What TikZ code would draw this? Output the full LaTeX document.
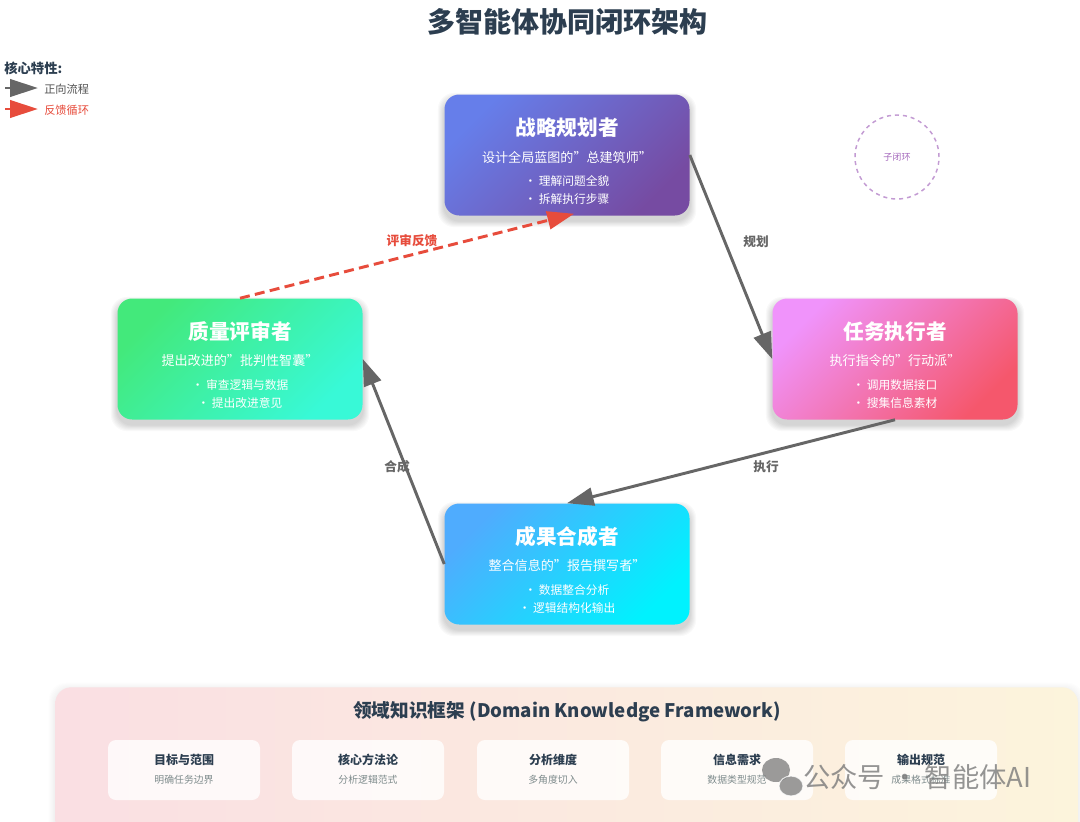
\documentclass[tikz,border=0pt]{standalone}
\usepackage{fontspec}
\setmainfont{Noto Sans CJK SC}
\usetikzlibrary{arrows.meta,calc,backgrounds}
\definecolor{titlec}{HTML}{2C3E50}
\definecolor{edgec}{HTML}{666666}
\definecolor{fbred}{HTML}{E74C3C}
\definecolor{subgray}{HTML}{7F8C8D}
\definecolor{loopc}{HTML}{C39BD3}
\definecolor{looptxt}{HTML}{A569BD}
\definecolor{sA}{HTML}{667EEA}\definecolor{sB}{HTML}{764BA2}
\definecolor{qA}{HTML}{43E97B}\definecolor{qB}{HTML}{38F9D7}
\definecolor{eA}{HTML}{F093FB}\definecolor{eB}{HTML}{F5576C}
\definecolor{cA}{HTML}{4FACFE}\definecolor{cB}{HTML}{00F2FE}
\definecolor{panA}{HTML}{FADFE3}\definecolor{panB}{HTML}{FCF4DC}
\definecolor{wm}{HTML}{7A7A7A}
\tikzset{
  agent/.style={rounded corners=11pt, minimum width=183.75pt, minimum height=90.75pt, inner sep=0pt},
  atitle/.style={text=white, font=\bfseries\fontsize{15.5}{18}\selectfont, inner sep=0pt},
  asub/.style={text=white, font=\fontsize{9.8}{12}\selectfont, inner sep=0pt},
  abul/.style={text=white, font=\fontsize{8.8}{11}\selectfont, inner sep=0pt},
  flow/.style={draw=edgec, line width=2.2pt, -{Triangle[length=20pt,width=13.5pt]}},
  fback/.style={draw=fbred, line width=2.2pt, dash pattern=on 7.5pt off 4pt, -{Triangle[length=20pt,width=13.5pt]}},
  elabel/.style={text=edgec, font=\bfseries\fontsize{9.5}{11}\selectfont, inner sep=0pt},
  card/.style={rounded corners=6pt, fill=white, fill opacity=0.8, minimum width=114pt, minimum height=45pt, inner sep=0pt},
  ctitle/.style={text=titlec, font=\bfseries\fontsize{9}{11}\selectfont, inner sep=0pt},
  csub/.style={text=subgray, font=\fontsize{7.4}{9}\selectfont, inner sep=0pt},
}
% soft shadow: name, corner radius, vertical shift (px, downwards), opacity per layer
\newcommand\softshadow[4]{%
  \begin{scope}[on background layer]
  \foreach \i in {1,...,7} {
    \fill[black, opacity=#4, rounded corners=#2] ($(#1.south west)+(-\i*0.9,\i*0.9+#3)$) rectangle ($(#1.north east)+(\i*0.9,-\i*0.9+#3)$);
  }
  \end{scope}}
\newcommand\agentbox[9]{%
  \node[agent, top color=#4, bottom color=#5, shading angle=45] (#1) at (#2,#3) {};
  \softshadow{#1}{12pt}{5}{0.022}
  \node[atitle] (#1-t) at ($(#1.center)+(0,-27)$) {#6};
  \node[asub] (#1-s) at ($(#1.center)+(0,2)$) {#7};
  \node[abul] (#1-b1) at ($(#1.center)+(0,26)$) {• #8};
  \node[abul] (#1-b2) at ($(#1.center)+(0,44)$) {• #9};
}
\newcommand\kcard[4]{%
  \node[card] (#1) at (#2,770) {};
  \softshadow{#1}{7pt}{3}{0.012}
  \node[ctitle] (#1-t) at ($(#1.center)+(0,-10)$) {#3};
  \node[csub] (#1-s) at ($(#1.center)+(0,10)$) {#4};
}
\begin{document}
\begin{tikzpicture}[x=0.75pt,y=-0.75pt]
\useasboundingbox (0,0) rectangle (1080,821);
\clip (0,0) rectangle (1080,821);
\begin{scope}[on background layer]
\fill[white] (0,0) rectangle (1080,821);
\end{scope}

% title
\node[text=titlec, font=\bfseries\fontsize{21}{24}\selectfont, inner sep=0pt] (title) at (567,22) {多智能体协同闭环架构};

% legend
\node[anchor=west, text=titlec, font=\bfseries\fontsize{10}{12}\selectfont, inner sep=0pt] (lgt) at (4,68) {核心特性:};
\coordinate (la1) at (5,88); \coordinate (la2) at (38,88);
\coordinate (lb1) at (5,109); \coordinate (lb2) at (38,109);
\draw[draw=edgec, line width=2.2pt, -{Triangle[length=21pt,width=13pt]}] (la1) -- (la2);
\draw[draw=fbred, line width=2.2pt, -{Triangle[length=21pt,width=13pt]}] (lb1) -- (lb2);
\node[anchor=west, text=edgec!80!black, font=\fontsize{8.4}{10}\selectfont, inner sep=0pt] (lg1) at (44,89) {正向流程};
\node[anchor=west, text=fbred, font=\fontsize{8.4}{10}\selectfont, inner sep=0pt] (lg2) at (44,110) {反馈循环};

% sub loop
\node[circle, draw=loopc, line width=1.1pt, dash pattern=on 3pt off 3pt, minimum size=63pt, inner sep=0pt,
  text=looptxt, font=\fontsize{6.8}{8}\selectfont] (sub) at (897,157) {子闭环};

% agents
\agentbox{s}{567}{155}{sA}{sB}{战略规划者}{设计全局蓝图的"总建筑师"}{理解问题全貌}{拆解执行步骤}
\agentbox{q}{240}{359}{qA}{qB}{质量评审者}{提出改进的"批判性智囊"}{审查逻辑与数据}{提出改进意见}
\agentbox{e}{895}{359}{eA}{eB}{任务执行者}{执行指令的"行动派"}{调用数据接口}{搜集信息素材}
\agentbox{c}{567}{564}{cA}{cB}{成果合成者}{整合信息的"报告撰写者"}{数据整合分析}{逻辑结构化输出}

% connectors
\draw[flow] (s.east) -- (e.west);
\draw[flow] (e.south) -- (c.north);
\draw[flow] (c.west) -- (q.east);
\draw[fback] (q.north) -- ($(s.south)+(7,-2)$);
\node[elabel] (l1) at (756,242) {规划};
\node[elabel] (l2) at (766,467) {执行};
\node[elabel] (l3) at (397,467) {合成};
\node[elabel, text=fbred] (l4) at (412,241) {评审反馈};

% knowledge panel
\node[rounded corners=12pt, left color=panA, right color=panB, minimum width=767pt, minimum height=115pt, inner sep=0pt,
  anchor=north west] (panel) at (55,687) {};
\softshadow{panel}{13pt}{2}{0.008}
\node[text=titlec, font=\bfseries\fontsize{14}{17}\selectfont, inner sep=0pt] (ptitle) at (567,712) {领域知识框架 (Domain Knowledge Framework)};
\kcard{k1}{184}{目标与范围}{明确任务边界}
\kcard{k2}{368}{核心方法论}{分析逻辑范式}
\kcard{k3}{553}{分析维度}{多角度切入}
\kcard{k4}{737}{信息需求}{数据类型规范}
\kcard{k5}{921}{输出规范}{成果格式标准}

% watermark
\fill[wm, opacity=0.75] (776,770) ellipse [x radius=14, y radius=12];
\fill[wm, opacity=0.75, draw=white, line width=0.8pt] (791,786) ellipse [x radius=12, y radius=10];
\node[anchor=west, text=wm, opacity=0.8, font=\fontsize{20.5}{24}\selectfont, inner sep=0pt] (wmark) at (803,777) {公众号 · 智能体AI};
\end{tikzpicture}
\end{document}
